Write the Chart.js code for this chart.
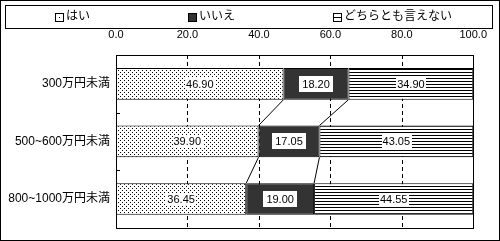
<!DOCTYPE html>
<html>
<head>
<meta charset="utf-8">
<script src="https://cdn.jsdelivr.net/npm/chart.js@4.4.0/dist/chart.umd.min.js"></script>
<title>回答割合</title>
<style>
  body { margin: 0; background: #fff; }
</style>
</head>
<body>
<canvas id="bar-chart" width="500" height="241"></canvas>
<script>
// data
const categories = ['300万円未満', '500~600万円未満', '800~1000万円未満'];
const seriesNames = ['はい', 'いいえ', 'どちらとも言えない'];
const yesValues = [46.90, 39.90, 36.45];
const noValues = [18.20, 17.05, 19.00];
const neutralValues = [34.90, 43.05, 44.55];
const tickValues = [0, 20, 40, 60, 80, 100];

const FONT = '"Liberation Sans", "Noto Sans CJK JP", sans-serif';

// fill patterns
function dotPattern() {
    const c = document.createElement('canvas');
    c.width = 4; c.height = 4;
    const x = c.getContext('2d');
    x.fillStyle = '#fff'; x.fillRect(0, 0, 4, 4);
    x.fillStyle = '#000';
    x.fillRect(0, 0, 1, 1);
    x.fillRect(2, 2, 1, 1);
    return x.createPattern(c, 'repeat');
}
function linePattern() {
    const c = document.createElement('canvas');
    c.width = 4; c.height = 3;
    const x = c.getContext('2d');
    x.fillStyle = '#fff'; x.fillRect(0, 0, 4, 3);
    x.fillStyle = '#000'; x.fillRect(0, 0, 4, 1);
    return x.createPattern(c, 'repeat');
}

const fills = [dotPattern(), '#333333', linePattern()];

const decorPlugin = {
    id: 'decor',
    beforeDatasetsDraw(chart) {
        // dashed vertical gridlines
        const ctx = chart.ctx;
        const area = chart.chartArea;
        const x = chart.scales.x;
        ctx.save();
        ctx.strokeStyle = '#000';
        ctx.lineWidth = 1;
        ctx.setLineDash([4, 3]);
        tickValues.slice(1, -1).forEach(v => {
            const px = Math.round(x.getPixelForValue(v)) + 0.5;
            ctx.beginPath();
            ctx.moveTo(px, area.top);
            ctx.lineTo(px, area.bottom);
            ctx.stroke();
        });
        ctx.restore();
    },
    afterDatasetsDraw(chart) {
        const ctx = chart.ctx;
        const area = chart.chartArea;
        const y = chart.scales.y;
        ctx.save();
        ctx.strokeStyle = '#000';
        ctx.lineWidth = 1;

        // series lines between bars
        for (let d = 0; d < 2; d++) {
            const els = chart.getDatasetMeta(d).data;
            for (let i = 0; i < els.length - 1; i++) {
                const a = els[i], b = els[i + 1];
                ctx.beginPath();
                ctx.moveTo(a.x, a.y + a.height / 2);
                ctx.lineTo(b.x, b.y - b.height / 2);
                ctx.stroke();
            }
        }

        // plot border
        ctx.strokeRect(Math.round(area.left) + 0.5, Math.round(area.top) + 0.5,
            Math.round(area.right - area.left), Math.round(area.bottom - area.top));

        // inward tick marks between categories
        for (let i = 0; i < categories.length - 1; i++) {
            const yy = Math.round((y.getPixelForValue(i) + y.getPixelForValue(i + 1)) / 2) + 0.5;
            ctx.beginPath();
            ctx.moveTo(area.left, yy);
            ctx.lineTo(area.left + 4, yy);
            ctx.stroke();
        }

        // value labels on white boxes
        ctx.font = '11px ' + FONT;
        ctx.textAlign = 'center';
        ctx.textBaseline = 'middle';
        chart.data.datasets.forEach((ds, d) => {
            chart.getDatasetMeta(d).data.forEach((el, i) => {
                const txt = ds.data[i].toFixed(2);
                const cx = (el.x + el.base) / 2;
                const w = ctx.measureText(txt).width;
                const padX = d === 1 ? 3 : 1;
                const h = d === 1 ? 16 : 13;
                ctx.fillStyle = '#fff';
                ctx.fillRect(Math.round(cx - w / 2 - padX), Math.round(el.y - h / 2), Math.round(w + padX * 2), h);
                ctx.fillStyle = '#000';
                ctx.fillText(txt, cx, el.y + 1);
            });
        });

        // legend
        const lgTop = 5, lgBottom = 28;
        ctx.strokeRect(5.5, lgTop + 0.5, 487, lgBottom - lgTop);
        ctx.font = '12px ' + FONT;
        ctx.textAlign = 'left';
        const gap = 98, box = 9;
        const widths = seriesNames.map(n => box + 2 + ctx.measureText(n).width);
        const total = widths.reduce((s, w) => s + w, 0) + gap * (widths.length - 1);
        let lx = 254 - total / 2;
        const ly = (lgTop + lgBottom) / 2 + 0.5;
        seriesNames.forEach((n, i) => {
            const bx = Math.round(lx), by = Math.round(ly - box / 2);
            ctx.fillStyle = '#fff';
            ctx.fillRect(bx, by, box, box);
            ctx.fillStyle = '#000';
            if (i === 1) {
                ctx.fillStyle = '#333333';
                ctx.fillRect(bx, by, box, box);
            } else if (i === 0) {
                ctx.fillRect(bx + 4, by + 4, 1, 1);
            } else {
                ctx.fillRect(bx, by + 4, box, 1);
            }
            ctx.strokeStyle = '#000';
            ctx.strokeRect(bx + 0.5, by + 0.5, box - 1, box - 1);
            ctx.fillStyle = '#000';
            ctx.fillText(n, bx + box + 2, ly);
            lx += widths[i] + gap;
        });

        // outer frame
        ctx.strokeRect(0.5, 0.5, chart.width - 1, chart.height - 1);
        ctx.restore();
    }
};

new Chart(document.getElementById('bar-chart'), {
    type: 'bar',
    data: {
        labels: categories,
        datasets: [yesValues, noValues, neutralValues].map((vals, i) => ({
            label: seriesNames[i],
            data: vals,
            backgroundColor: fills[i],
            borderColor: '#000',
            borderWidth: 1,
            borderSkipped: false,
            categoryPercentage: 1,
            barPercentage: 0.55
        }))
    },
    options: {
        responsive: false,
        animation: false,
        indexAxis: 'y',
        layout: { padding: { top: 0, right: 21, bottom: 5, left: 0 } },
        plugins: {
            legend: { display: false },
            tooltip: { enabled: false }
        },
        scales: {
            x: {
                position: 'top',
                stacked: true,
                min: 0,
                max: 100,
                afterBuildTicks(scale) {
                    scale.ticks = tickValues.map(v => ({ value: v }));
                },
                afterFit(scale) { scale.height = 55; },
                border: { display: false },
                grid: { display: false, drawTicks: false },
                ticks: {
                    padding: 13,
                    autoSkip: false,
                    maxRotation: 0,
                    color: '#000',
                    font: { family: FONT, size: 11 },
                    callback: v => v.toFixed(1)
                }
            },
            y: {
                stacked: true,
                afterFit(scale) { scale.width = 116; },
                border: { display: false },
                grid: { display: false, drawTicks: false },
                ticks: {
                    padding: 6,
                    color: '#000',
                    font: { family: FONT, size: 12 }
                }
            }
        }
    },
    plugins: [decorPlugin]
});
</script>
</body>
</html>
